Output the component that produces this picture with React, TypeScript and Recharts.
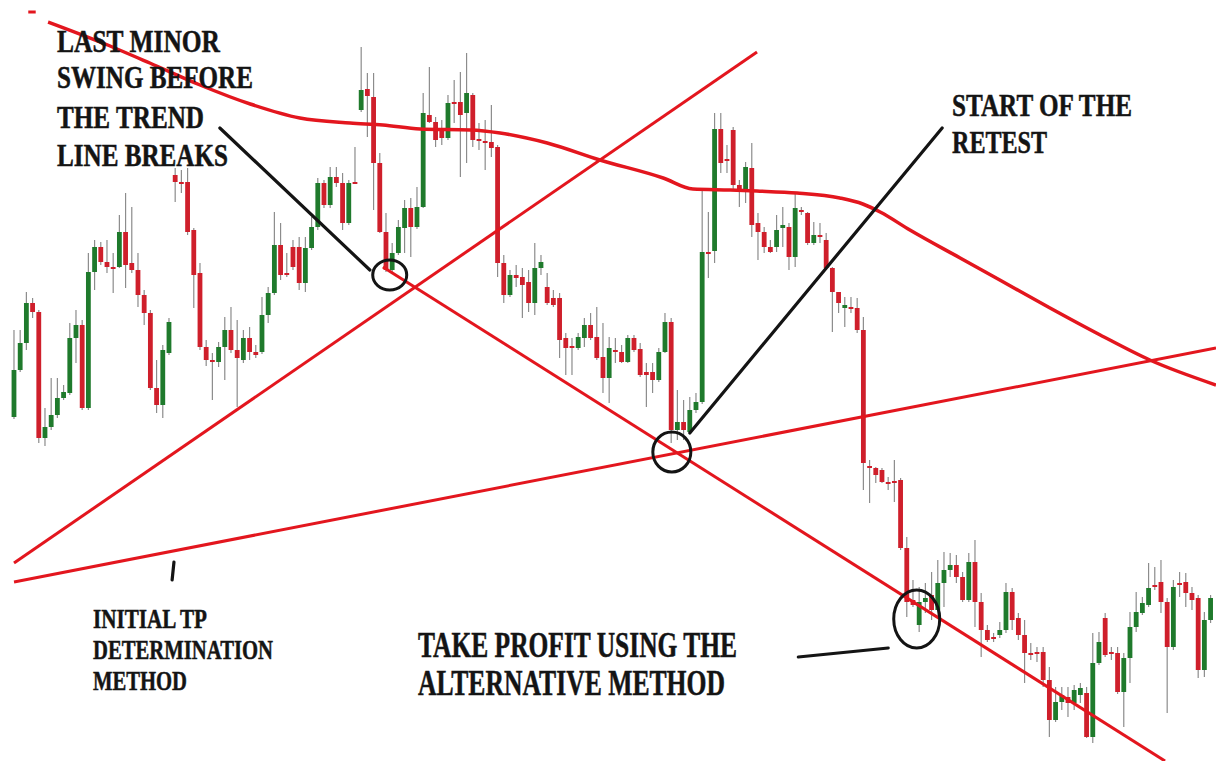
import React from 'react';
import { ComposedChart, Bar, Line, XAxis, YAxis, ReferenceLine, ReferenceDot } from 'recharts';

const WIDTH = 1216;
const HEIGHT = 761;

const RED = '#e3161e';
const CANDLE_UP = '#1f7a2c';
const CANDLE_DOWN = '#cf1f2b';
const WICK = '#8c8c8c';
const INK = '#141414';

// candle values, one per bar, oldest first
const openPrices = [
  344, 391, 418, 458, 449, 323, 334, 346, 363, 368,
  423, 436, 353, 489, 514, 499, 494, 494, 529, 498,
  491, 466, 448, 373, 356, 408, 586, 579, 579, 531,
  488, 414, 401, 399, 414, 431, 411, 401, 423, 409,
  409, 446, 468, 516, 488, 514, 514, 478, 513, 534,
  578, 556, 584, 578, 538, 579, 651, 672, 664, 598,
  529, 491, 508, 533, 553, 534, 554, 646, 639, 631,
  623, 659, 659, 648, 666, 622, 620, 619, 614, 498,
  466, 486, 484, 479, 458, 493, 474, 463, 463, 423,
  415, 413, 423, 436, 424, 404, 383, 411, 409, 399,
  423, 412, 389, 389, 381, 409, 439, 331, 339, 329,
  351, 359, 509, 510, 632, 602, 631, 576, 571, 593,
  538, 529, 514, 514, 533, 534, 504, 551, 548, 518,
  526, 521, 493, 469, 453, 454, 453, 431, 295, 293,
  291, 279, 280, 281, 213, 161, 136, 159, 166, 151,
  178, 191, 196, 184, 161, 199, 159, 131, 124, 126,
  131, 169, 143, 126, 108, 109, 109, 81, 41, 59,
  64, 58, 66, 68, 24, 98, 143, 109, 108, 69,
  103, 134, 148, 156, 176, 179, 159, 114, 178, 179,
  168, 163, 91, 141,
];

const closePrices = [
  391, 418, 458, 449, 323, 334, 346, 363, 369, 423,
  436, 353, 489, 514, 499, 494, 493, 529, 496, 491,
  466, 448, 373, 356, 411, 439, 579, 578, 529, 486,
  414, 401, 400, 414, 431, 411, 403, 423, 409, 406,
  446, 468, 516, 486, 487, 494, 478, 513, 534, 578,
  556, 584, 578, 538, 578, 578, 671, 665, 598, 529,
  491, 508, 534, 553, 534, 554, 648, 639, 621, 623,
  658, 658, 646, 668, 621, 621, 619, 613, 498, 466,
  486, 483, 476, 458, 493, 499, 458, 456, 421, 413,
  414, 424, 436, 423, 403, 383, 413, 410, 399, 423,
  411, 386, 386, 381, 409, 439, 331, 339, 331, 351,
  359, 509, 508, 632, 598, 601, 576, 571, 594, 536,
  529, 514, 509, 531, 536, 504, 553, 550, 518, 526,
  525, 493, 469, 458, 456, 453, 431, 298, 294, 286,
  279, 278, 279, 213, 159, 156, 159, 163, 151, 178,
  191, 196, 184, 161, 199, 159, 131, 121, 123, 131,
  169, 141, 126, 108, 107, 108, 81, 41, 59, 66,
  58, 71, 73, 24, 98, 119, 106, 108, 69, 103,
  134, 149, 158, 173, 175, 159, 114, 174, 177, 168,
  161, 91, 141, 163,
];

const highPrices = [
  431, 431, 469, 463, 451, 353, 383, 383, 376, 438,
  451, 441, 508, 521, 519, 521, 508, 546, 568, 554,
  508, 471, 451, 401, 416, 443, 593, 591, 593, 533,
  498, 421, 408, 419, 444, 454, 441, 431, 434, 416,
  464, 474, 549, 538, 508, 521, 524, 524, 544, 583,
  581, 594, 594, 588, 581, 614, 714, 688, 688, 608,
  548, 518, 541, 561, 563, 574, 668, 694, 644, 641,
  666, 681, 689, 708, 668, 638, 641, 656, 616, 506,
  491, 496, 493, 491, 518, 506, 488, 471, 468, 428,
  423, 428, 443, 448, 454, 438, 424, 423, 416, 426,
  426, 418, 398, 398, 413, 448, 443, 371, 361, 364,
  368, 571, 549, 648, 648, 616, 634, 581, 599, 618,
  548, 534, 521, 546, 554, 538, 569, 554, 549, 539,
  538, 528, 494, 469, 464, 464, 463, 444, 301, 294,
  293, 284, 301, 283, 224, 181, 174, 178, 189, 201,
  209, 208, 206, 189, 208, 221, 168, 136, 128, 139,
  178, 173, 148, 141, 118, 114, 114, 94, 74, 74,
  74, 76, 78, 74, 128, 129, 148, 114, 114, 108,
  149, 169, 164, 198, 194, 201, 163, 181, 189, 188,
  174, 166, 149, 166,
];

const lowPrices = [
  342, 389, 411, 443, 318, 315, 331, 343, 361, 366,
  398, 351, 351, 471, 496, 488, 468, 493, 473, 488,
  454, 436, 371, 348, 343, 406, 559, 568, 526, 453,
  411, 395, 361, 394, 381, 408, 354, 398, 401, 403,
  407, 438, 466, 481, 484, 491, 471, 469, 511, 531,
  553, 553, 574, 531, 536, 577, 649, 624, 551, 528,
  489, 489, 506, 508, 504, 532, 553, 638, 614, 616,
  621, 638, 584, 598, 614, 611, 591, 604, 484, 458,
  464, 474, 443, 449, 446, 486, 456, 454, 403, 386,
  386, 411, 414, 421, 401, 368, 358, 398, 398, 398,
  409, 384, 354, 368, 379, 408, 318, 321, 321, 328,
  348, 357, 483, 498, 588, 588, 571, 554, 558, 524,
  501, 508, 508, 509, 514, 491, 494, 546, 516, 516,
  518, 491, 429, 448, 434, 448, 428, 271, 258, 278,
  278, 271, 259, 211, 144, 154, 129, 148, 141, 144,
  154, 184, 178, 159, 159, 134, 104, 119, 119, 123,
  128, 131, 121, 78, 101, 99, 74, 24, 39, 51,
  44, 51, 58, 23, 18, 96, 104, 101, 67, 34,
  78, 129, 146, 154, 171, 148, 48, 111, 164, 154,
  151, 83, 84, 138,
];

// the curved red moving average, read at a few bar positions
const maBars = [5.5, 13.9, 21.9, 30, 38.1, 46.1, 54.2, 59.5, 65.5, 73.6, 78.4, 86, 94.5, 104.7, 109.5, 115.5, 119.8, 126.3, 133.2, 136.9, 139.7, 144.5, 152.6, 159, 167.1, 175.2, 183.2, 193.87];
const maValues = [739, 719, 698, 676, 657, 643, 638, 636, 632, 631, 628, 618, 601, 583, 572, 571, 570, 568, 563, 557, 549, 531, 503, 481, 453, 426, 401, 376];

// red trend lines: [bar, price] -> [bar, price]
const trendLines = [
  [[0, 198], [119.84, 709]],
  [[59.5, 494], [185.65, 0]],
  [[0, 179], [193.87, 413]],
  [[2.3, 749], [3.5, 749]],
];

// black pointer strokes
const pointers = [
  [[33.2, 633], [57.4, 491]],
  [[109.0, 328], [149.7, 633]],
  [[126.5, 104], [141.0, 113]],
  [[25.8, 199], [25.5, 181]],
];

// circled bars: bar, price, rx, ry
const circles = [
  { bar: 60.6, price: 486, rx: 17, ry: 15 },
  { bar: 106.1, price: 309, rx: 19, ry: 20 },
  { bar: 145.6, price: 142, rx: 23, ry: 29 },
];

const notes = [
  { x: 57, size: 31, lines: [['LAST MINOR', 52, 163], ['SWING BEFORE', 88, 196], ['THE TREND', 128, 147], ['LINE BREAKS', 166, 171]] },
  { x: 952, size: 32, lines: [['START OF THE', 116, 180], ['RETEST', 153, 95]] },
  { x: 93, size: 28, lines: [['INITIAL TP', 628, 114], ['DETERMINATION', 659, 180], ['METHOD', 690, 94]] },
  { x: 418, size: 35, lines: [['TAKE PROFIT USING THE', 657, 319], ['ALTERNATIVE METHOD', 695, 307]] },
];

const candles = openPrices.map((open, i) => ({
  i,
  open,
  close: closePrices[i],
  high: highPrices[i],
  low: lowPrices[i],
  range: [lowPrices[i], highPrices[i]],
}));

const movingAverage = maBars.map((i, k) => ({ i, ma: maValues[k] }));

function Candle(props: any) {
  const { x, y, width, height, payload } = props;
  if (x == null || y == null || !payload) return null;
  const { open, close, high, low } = payload;
  const cx = x + width / 2;
  const h = Math.abs(height);
  const top = Math.min(y, y + height);
  const k = high > low ? h / (high - low) : 0;
  const py = (v: number) => top + (high - v) * k;
  const bodyTop = py(Math.max(open, close));
  const bodyH = Math.max(py(Math.min(open, close)) - bodyTop, 2);
  const fill = close > open ? CANDLE_UP : CANDLE_DOWN;
  return (
    <g>
      <line x1={cx} x2={cx} y1={top} y2={top + h} stroke={WICK} strokeWidth={1.2} />
      <rect x={cx - 2.4} y={bodyTop} width={4.8} height={bodyH} fill={fill} />
    </g>
  );
}

export default function App() {
  return (
    <div style={{ position: 'absolute', left: 0, top: 0, width: WIDTH, height: HEIGHT, background: '#fff' }}>
      <ComposedChart width={WIDTH} height={HEIGHT} data={candles} margin={{ top: 0, right: 0, bottom: 0, left: 0 }}>
        <XAxis dataKey="i" type="number" domain={[-2.26, 193.87]} hide allowDataOverflow />
        <YAxis type="number" domain={[0, HEIGHT]} hide allowDataOverflow />
        <Bar dataKey="range" barSize={5} shape={(p: any) => <Candle {...p} />} isAnimationActive={false} />
        <Line
          data={movingAverage}
          dataKey="ma"
          type="monotone"
          stroke={RED}
          strokeWidth={3.5}
          dot={false}
          activeDot={false}
          isAnimationActive={false}
        />
        {trendLines.map(([a, b], n) => (
          <ReferenceLine
            key={'t' + n}
            segment={[{ x: a[0], y: a[1] }, { x: b[0], y: b[1] }]}
            stroke={RED}
            strokeWidth={3}
            ifOverflow="visible"
          />
        ))}
        {pointers.map(([a, b], n) => (
          <ReferenceLine
            key={'p' + n}
            segment={[{ x: a[0], y: a[1] }, { x: b[0], y: b[1] }]}
            stroke={INK}
            strokeWidth={3.2}
            strokeLinecap="round"
            ifOverflow="visible"
          />
        ))}
        {circles.map((c, n) => (
          <ReferenceDot
            key={'c' + n}
            x={c.bar}
            y={c.price}
            r={c.rx}
            ifOverflow="visible"
            shape={(p: any) => (
              <ellipse cx={p.cx} cy={p.cy} rx={c.rx} ry={c.ry} fill="none" stroke={INK} strokeWidth={3} />
            )}
          />
        ))}
      </ComposedChart>
      <svg width={WIDTH} height={HEIGHT} style={{ position: 'absolute', left: 0, top: 0, pointerEvents: 'none' }}>
        {notes.map((note, n) =>
          note.lines.map(([label, baseline, len]) => (
            <text
              key={n + '-' + label}
              x={note.x}
              y={baseline as number}
              fontFamily="'Liberation Serif', 'Times New Roman', serif"
              fontWeight={700}
              fontSize={note.size}
              fill={INK}
              stroke={INK}
              strokeWidth={0.5}
              textLength={len as number}
              lengthAdjust="spacingAndGlyphs"
            >
              {label}
            </text>
          ))
        )}
      </svg>
    </div>
  );
}
